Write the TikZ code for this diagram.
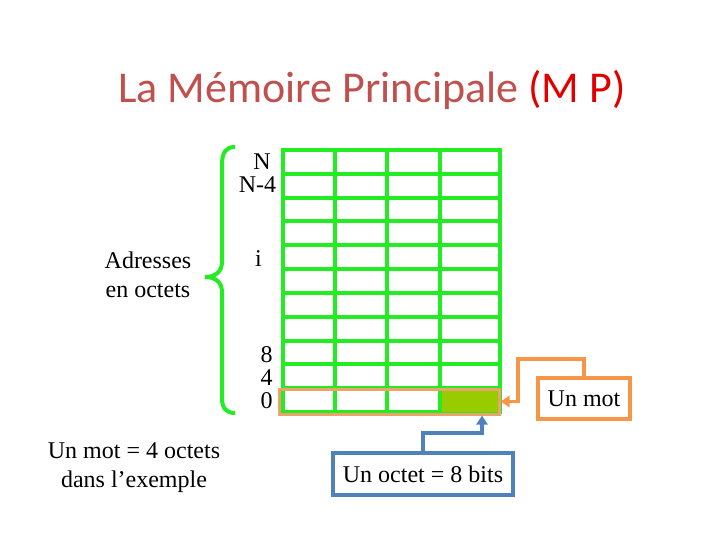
\documentclass[tikz,border=0pt]{standalone}
\usepackage{fontspec}
\setmainfont{Liberation Serif}
\newfontfamily\titlefont{Carlito}
\usetikzlibrary{arrows.meta}
\definecolor{gridgreen}{RGB}{34,236,34}
\definecolor{olive}{RGB}{153,204,0}
\definecolor{mporange}{RGB}{247,150,70}
\definecolor{wordorange}{RGB}{240,160,105}
\definecolor{mpblue}{RGB}{79,129,189}
\definecolor{titlered}{RGB}{192,80,77}
\definecolor{brightred}{RGB}{225,0,0}
\tikzset{
  body/.style={font=\fontsize{24}{29}\selectfont, inner sep=0pt},
  addr/.style={body, anchor=base},
  gridline/.style={gridgreen, line width=4pt},
  callout/.style={body, draw, line width=3.5pt, fill=white},
}
\begin{document}
\begin{tikzpicture}[x=1pt,y=-1pt]
\useasboundingbox (0,0) rectangle (720,540);
% title
\node[anchor=base, inner sep=0pt, font=\titlefont\fontsize{44}{50}\selectfont] (title) at (372,103)
  {\textcolor{titlered}{La Mémoire Principale} \textcolor{brightred}{(M P)}};
% grid
\foreach \x in {283,335,387,440,500} \draw[gridline] (\x,150) -- (\x,412);
\foreach \i in {0,...,11} \draw[gridline] (281,{150+\i*23.82}) -- (502,{150+\i*23.82});
% highlighted octet
\node[fill=olive, minimum width=56pt, minimum height=22pt, inner sep=0pt] (cell) at (470,400.5) {};
% word rectangle
\node[draw=wordorange, line width=3pt, minimum width=220pt, minimum height=25pt, inner sep=0pt] (word) at (389,401.5) {};
% brace
\draw[gridgreen, line width=4pt] (235,147) .. controls (226,147) and (222,152) .. (222,165) -- (222,262)
  .. controls (222,272) and (215,277) .. (205,277) .. controls (215,277) and (222,282) .. (222,292)
  -- (222,398) .. controls (222,408) and (226,413) .. (235,413);
% address labels
\node[addr] (aN) at (262,170) {N};
\node[addr] (aN4) at (257.5,193) {N-4};
\node[addr] (ai) at (258.5,266) {i};
\node[addr] (a8) at (266.5,362) {8};
\node[addr] (a4) at (266.5,385.5) {4};
\node[addr] (a0) at (266.5,408.5) {0};
% left texts
\node[body, align=center, anchor=base] (adr) at (148,297) {Adresses\\en octets};
\node[body, align=center, anchor=base] (ex) at (134,487) {Un mot = 4 octets\\dans l’exemple};
% callouts
\node[callout, draw=mporange, minimum width=92pt, minimum height=41pt] (mot) at (584,398.5) {Un mot};
\node[callout, draw=mpblue, minimum width=180pt, minimum height=42pt] (oct) at (423,474) {Un octet = 8 bits};
\coordinate (m1) at (518,359);
\coordinate (b1) at (482,433);
\draw[mporange, line width=3.5pt, -{Triangle[length=9pt,width=11pt]}] (mot.north) |- (m1) |- (word.east);
\draw[mpblue, line width=3.5pt, -{Triangle[length=9pt,width=11pt]}] (oct.north) |- (b1) -- (b1 |- word.south);
\end{tikzpicture}
\end{document}
